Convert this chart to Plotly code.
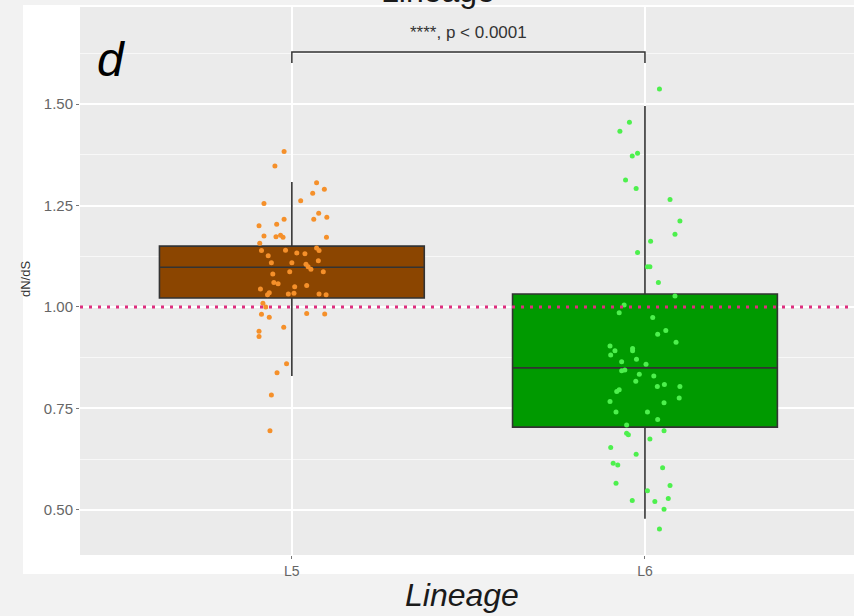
import plotly.graph_objects as go

# ---- data -------------------------------------------------------------
lineages = ["L5", "L6"]
lineage_pos = [1, 2]

# box summary statistics (dN/dS)
box_q1 = [1.022, 0.704]
box_median = [1.098, 0.850]
box_q3 = [1.150, 1.032]
box_lower = [0.830, 0.478]
box_upper = [1.308, 1.495]

# per-gene dN/dS values and their horizontal jitter offsets
l5_dnds = [1.383, 1.347, 1.306, 1.290, 1.280, 1.262, 1.255, 1.231, 1.221, 1.216,
           1.216, 1.204, 1.200, 1.172, 1.175, 1.173, 1.177, 1.172, 1.157, 1.139,
           1.145, 1.140, 1.133, 1.131, 1.126, 1.139, 1.114, 1.109, 1.109, 1.099,
           1.105, 1.093, 1.087, 1.087, 1.081, 1.060, 1.057, 1.050, 1.053, 1.044,
           1.035, 1.030, 1.032, 1.034, 1.032, 1.030, 1.009, 1.000, 0.982, 0.975,
           0.984, 0.983, 0.950, 0.940, 0.927, 0.860, 0.838, 0.783, 0.695]
l5_jitter = [-0.022, -0.048, 0.070, 0.092, 0.059, 0.025, -0.079, 0.076, 0.099, 0.062,
             -0.022, -0.043, -0.093, 0.098, -0.079, -0.045, -0.032, -0.025, -0.091, -0.086,
             0.070, -0.018, 0.014, 0.037, -0.067, 0.077, 0.075, -0.058, 0.000, 0.046,
             0.040, 0.054, 0.089, -0.006, -0.054, -0.051, -0.039, 0.008, 0.042, -0.089,
             -0.064, -0.069, -0.010, 0.006, 0.077, 0.097, -0.082, -0.074, -0.086, -0.064,
             0.042, 0.093, -0.023, -0.093, -0.093, -0.015, -0.042, -0.058, -0.062]

l6_dnds = [1.537, 1.455, 1.433, 1.379, 1.372, 1.313, 1.292, 1.265, 1.212, 1.179,
           1.162, 1.134, 1.099, 1.099, 1.060, 1.027, 1.005, 0.986, 0.974, 0.942,
           0.933, 0.913, 0.904, 0.892, 0.882, 0.898, 0.892, 0.871, 0.865, 0.859,
           0.845, 0.843, 0.834, 0.830, 0.817, 0.804, 0.809, 0.804, 0.792, 0.796,
           0.776, 0.767, 0.764, 0.741, 0.741, 0.723, 0.709, 0.689, 0.685, 0.675,
           0.695, 0.654, 0.637, 0.604, 0.615, 0.611, 0.566, 0.560, 0.547, 0.523,
           0.521, 0.528, 0.502, 0.453]
l6_jitter = [0.041, -0.044, -0.071, -0.021, -0.036, -0.055, -0.025, 0.071, 0.099, 0.085,
             0.016, -0.021, 0.007, 0.014, 0.038, 0.085, -0.059, -0.073, 0.022, 0.059,
             0.036, 0.088, -0.099, -0.085, -0.097, -0.035, -0.035, -0.024, -0.066, 0.003,
             -0.057, -0.066, -0.016, 0.025, -0.026, 0.035, 0.055, 0.099, -0.080, -0.073,
             0.097, -0.099, 0.054, -0.082, 0.007, 0.036, -0.052, -0.052, -0.047, 0.014,
             0.054, -0.097, -0.025, 0.050, -0.090, -0.077, -0.082, 0.071, 0.007, -0.036,
             0.028, 0.066, 0.054, 0.041]

y_ticks = [0.50, 0.75, 1.00, 1.25, 1.50]
y_tick_labels = ["0.50", "0.75", "1.00", "1.25", "1.50"]
y_minor = [0.625, 0.875, 1.125, 1.375, 1.625]
neutral_ratio = 1.0
test_label = "****, p < 0.0001"

# ---- styling ----------------------------------------------------------
box_fill = ["#8B4500", "#009A00"]
point_col = ["#F5902A", "#4DF04D"]
W, H = 854, 616
ML, MR, MT, MB = 80, 0, 7, 61
Y_RANGE = [0.389, 1.739]
X_RANGE = [0.4, 2.592]
FONT = "Liberation Sans"
OUTER = "#F2F2F2"


def px_x(px):
    return (px - ML) / (W - ML - MR)


def px_y(py):
    return (H - MB - py) / (H - MT - MB)


fig = go.Figure()

for i, name in enumerate(lineages):
    fig.add_trace(go.Box(
        x=[lineage_pos[i]], q1=[box_q1[i]], median=[box_median[i]], q3=[box_q3[i]],
        lowerfence=[box_lower[i]], upperfence=[box_upper[i]],
        width=0.75, whiskerwidth=0, boxpoints=False,
        fillcolor=box_fill[i], line=dict(color="#333333", width=1.6),
        name=name, showlegend=False, hoverinfo="skip",
    ))

for pos, vals, jit, col in [(1, l5_dnds, l5_jitter, point_col[0]),
                            (2, l6_dnds, l6_jitter, point_col[1])]:
    fig.add_trace(go.Scatter(
        x=[pos + j for j in jit], y=vals, mode="markers",
        marker=dict(color=col, size=5, line=dict(width=0)),
        showlegend=False, hoverinfo="y",
    ))

# significance bracket between the two lineages
bracket_top, bracket_tip = 1.628, 1.601
fig.add_trace(go.Scatter(
    x=[lineage_pos[0], lineage_pos[0], lineage_pos[1], lineage_pos[1]],
    y=[bracket_tip, bracket_top, bracket_top, bracket_tip],
    mode="lines", line=dict(color="#333333", width=1.5),
    showlegend=False, hoverinfo="skip",
))


def strip(x0, x1, y0, y1):
    return dict(type="rect", xref="paper", yref="paper", layer="below",
                x0=px_x(x0), x1=px_x(x1), y0=px_y(y1), y1=px_y(y0),
                fillcolor=OUTER, line=dict(width=0))


shapes = [
    # light grey surround outside the white plot background
    strip(0, 23, 0, 616),
    strip(0, 854, 0, 5),
    strip(0, 854, 574, 616),
    # neutral selection reference line
    dict(type="line", xref="paper", yref="y", x0=0, x1=1,
         y0=neutral_ratio, y1=neutral_ratio, layer="above",
         line=dict(color="#DE2E7E", width=3, dash="3px,6px")),
]


def label(text, x, y, size, color, **kw):
    return dict(text=text, x=px_x(x), y=px_y(y), xref="paper", yref="paper",
                xanchor="center", yanchor="middle", showarrow=False,
                font=dict(family=FONT, size=size, color=color), **kw)


annotations = [
    dict(text=test_label, x=1.5, y=1.675, xref="x", yref="y", showarrow=False,
         xanchor="center", yanchor="middle",
         font=dict(family=FONT, size=17, color="#333333")),
    label("<i>d</i>", 111, 59, 48, "black"),
    label("<i>Lineage</i>", 462, 595, 32, "#1a1a1a"),
    label("Lineage", 438, -9, 32, "#1a1a1a"),
    label("dN/dS", 25, 279, 13, "#333333", textangle=-90),
]

fig.update_layout(
    width=W, height=H,
    margin=dict(l=ML, r=MR, t=MT, b=MB, pad=0),
    paper_bgcolor="white", plot_bgcolor="#EBEBEB",
    shapes=shapes, annotations=annotations,
    xaxis=dict(range=X_RANGE, tickvals=lineage_pos, ticktext=lineages,
               showgrid=True, gridcolor="white", gridwidth=1.5, zeroline=False,
               ticks="outside", ticklen=3, tickcolor="#777777",
               tickfont=dict(family=FONT, size=14, color="#666666")),
    yaxis=dict(range=Y_RANGE, tickvals=y_ticks, ticktext=y_tick_labels,
               showgrid=True, gridcolor="white", gridwidth=1.5, zeroline=False,
               ticks="outside", ticklen=3, tickcolor="#777777",
               tickfont=dict(family=FONT, size=15, color="#666666"),
               minor=dict(tickvals=y_minor, showgrid=True, gridcolor="#F8F8F8",
                          gridwidth=0.8, ticks="")),
)

fig.write_html("out.html")
